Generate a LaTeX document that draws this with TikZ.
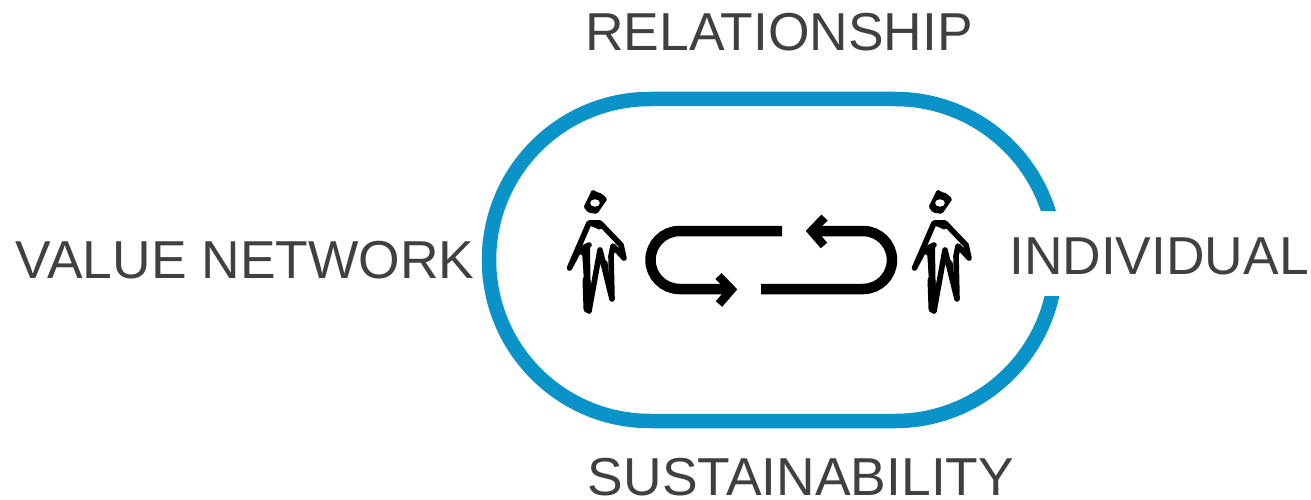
\documentclass[tikz,border=0pt]{standalone}
\usepackage{fontspec}
\setmainfont{Liberation Sans}
\definecolor{ringblue}{HTML}{0A93C9}
\definecolor{labelgrey}{HTML}{404040}
\tikzset{
  labeltext/.style={text=labelgrey,inner sep=0pt,font=\fontsize{53.4}{53.4}\selectfont},
  ring/.style={draw=ringblue,line width=14.5pt},
  flow/.style={draw=black,line width=10.5pt},
  flowtip/.style={draw=black,line width=8.5pt,miter limit=10},
  figline/.style={draw=black,line width=5.6pt,line cap=round,line join=round},
}
\newcommand{\personfig}[1]{%
  \begin{scope}[xshift=#1]
    \fill[black,rounded corners=1.5pt,even odd rule] (592,189.5) -- (599,193) -- (601,193) -- (607.5,199) -- (597,214) -- (588,212.5) -- (583.5,207) -- (589,196) -- cycle (595,203) ellipse[x radius=5pt,y radius=3.8pt];
    \draw[figline] (569.5,268) -- (589,223) -- (600,223) -- (621,245) -- (624,258) -- (613,246) -- (611,256) -- (612,299) -- (600,250) -- (589,311) -- (585,254) -- (579,250) -- (569.5,268);
    \draw[figline] (579,250) -- (589,245);
    \draw[figline,line width=8pt] (586.5,280) -- (587.5,309);
    \fill[black] (583,252) -- (590,244) -- (590.5,284) -- (591,311) -- (585,311) -- cycle;
    \fill[black] (600,255) -- (607.5,262) -- (612,299) -- cycle;
    \draw[figline,line width=3pt] (589,224) -- (595,226) -- (599,228) -- (603,226);
  \end{scope}}
\begin{document}
\begin{tikzpicture}[x=1pt,y=-1pt]
  \useasboundingbox (0,0) rectangle (1311,500);
  \begin{scope}
    \clip (0,0) rectangle (1311,211) (0,296) rectangle (1311,500) (0,200) rectangle (800,310);
    \draw[ring] (650,99) -- (895,99) arc[start angle=90,end angle=-90,radius=161pt]
      -- (650,421) arc[start angle=270,end angle=90,radius=161pt] -- cycle;
  \end{scope}
  \draw[flow] (782,231) -- (679.5,231) arc[start angle=90,end angle=270,radius=29pt] -- (731,289);
  \draw[flowtip] (718.5,276) -- (731.5,289.5) -- (719,304);
  \draw[flow] (761,289) -- (863,289) arc[start angle=-90,end angle=90,radius=29pt] -- (812,231);
  \draw[flowtip] (824.5,217.5) -- (811.5,231) -- (824,245.5);
  \personfig{0pt}
  \personfig{345pt}
  \node[labeltext] (relationship) at (779,32) {RELATIONSHIP};
  \node[labeltext] (valuenetwork) at (245,260) {VALUE NETWORK};
  \node[labeltext] (individual) at (1159,256) {INDIVIDUAL};
  \node[labeltext] (sustainability) at (801,477) {SUSTAINABILITY};
\end{tikzpicture}
\end{document}
